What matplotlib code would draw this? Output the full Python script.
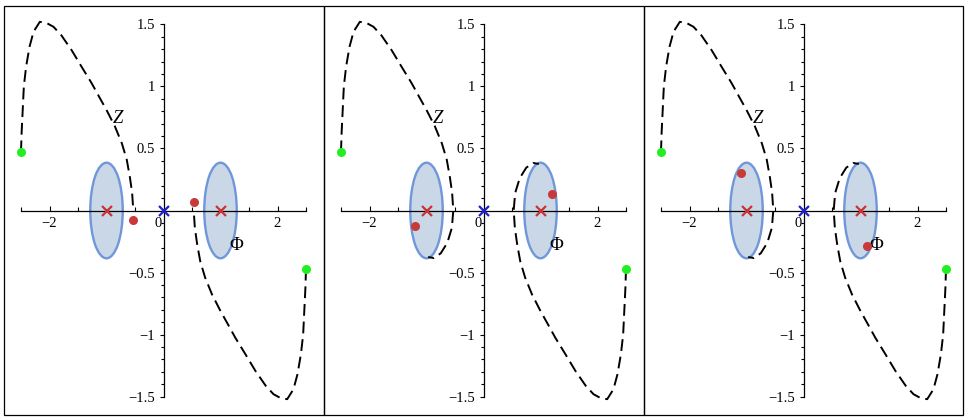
import matplotlib
matplotlib.use('Agg')
import matplotlib.pyplot as plt
from matplotlib.patches import Ellipse, Rectangle
from matplotlib.ticker import MultipleLocator, FixedLocator

plt.rcParams['font.family'] = ['Liberation Serif', 'DejaVu Serif']
plt.rcParams['lines.scale_dashes'] = False

# left branch of the dashed curve (first panel stops at the axis)
left_x = [-2.50, -2.49, -2.47, -2.45, -2.41, -2.35, -2.28, -2.17, -2.05, -1.93, -1.79,
          -1.61, -1.44, -1.26, -1.11, -1.00, -0.85, -0.73, -0.645, -0.59, -0.55, -0.53]
left_y = [0.469, 0.62, 0.81, 1.00, 1.16, 1.32, 1.44, 1.52, 1.51, 1.48, 1.41,
          1.29, 1.16, 1.025, 0.90, 0.81, 0.675, 0.54, 0.41, 0.27, 0.14, 0.0]
# continuation round the left ellipse (panels 2 and 3)
left_ext_x = [-0.53, -0.555, -0.635, -0.75, -0.87, -0.97]
left_ext_y = [0.0, -0.14, -0.26, -0.345, -0.383, -0.375]

right_x = [2.50, 2.49, 2.47, 2.45, 2.41, 2.35, 2.28, 2.17, 2.05, 1.93, 1.79,
           1.61, 1.44, 1.26, 1.11, 1.00, 0.85, 0.73, 0.645, 0.59, 0.55, 0.53]
right_y = [-0.469, -0.62, -0.81, -1.00, -1.16, -1.32, -1.44, -1.52, -1.51, -1.48, -1.41,
           -1.29, -1.16, -1.025, -0.90, -0.81, -0.675, -0.54, -0.41, -0.27, -0.14, 0.0]
right_ext_x = [0.53, 0.555, 0.635, 0.75, 0.87, 0.97]
right_ext_y = [0.0, 0.14, 0.26, 0.345, 0.383, 0.375]

green_x = [-2.5, 2.5]
green_y = [0.469, -0.469]

centers_x = [-1, 1]
ell_w, ell_h = 0.57, 0.77

# red dots for each panel
red_x = [[-0.53, 0.53], [-1.20, 1.21], [-1.10, 1.11]]
red_y = [[-0.075, 0.072], [-0.125, 0.133], [0.30, -0.29]]

xticks = [-2, -1, 1, 2]
xlabels = ['\u22122', '\u22121', '1', '2']
yticks = [-1.5, -1, -0.5, 0.5, 1, 1.5]
ylabels = ['\u22121.5', '\u22121', '\u22120.5', '0.5', '1', '1.5']

W, H = 967, 418
fig = plt.figure(figsize=(W / 100, H / 100), dpi=100)

# panel frames
for x0, x1 in [(4, 324), (324, 644), (644, 963)]:
    fig.add_artist(Rectangle((x0 / W, (H - 415) / H), (x1 - x0) / W, (415 - 6) / H,
                             transform=fig.transFigure, fill=False, ec='black', lw=0.9))

for i in range(3):
    dx = 320 * i
    ax = fig.add_axes([(21 + dx) / W, (H - 396.7) / H, 285 / W, 372.4 / H])
    ax.set_xlim(-2.5, 2.5)
    ax.set_ylim(-1.5, 1.5)
    ax.patch.set_visible(False)
    ax.spines['top'].set_visible(False)
    ax.spines['right'].set_visible(False)
    ax.spines['left'].set_position(('data', 0))
    ax.spines['bottom'].set_position(('data', 0))
    for s in ['left', 'bottom']:
        ax.spines[s].set_linewidth(0.9)

    ax.xaxis.set_major_locator(FixedLocator(xticks))
    ax.set_xticklabels(xlabels)
    ax.xaxis.set_minor_locator(FixedLocator([-2.5, -1.5, -0.5, 0.5, 1.5, 2.5]))
    ax.yaxis.set_major_locator(FixedLocator(yticks))
    ax.set_yticklabels(ylabels)
    ax.yaxis.set_minor_locator(MultipleLocator(0.1))
    ax.tick_params(axis='x', which='both', direction='in', pad=5, labelsize=10.5)
    ax.tick_params(axis='x', which='major', length=3.5, width=0.8)
    ax.tick_params(axis='x', which='minor', length=3, width=0.8)
    ax.tick_params(axis='y', which='both', direction='out', pad=3, labelsize=10.5)
    ax.tick_params(axis='y', which='major', length=3, width=0.8)
    ax.tick_params(axis='y', which='minor', length=2.2, width=0.8)
    ax.annotate('0', (0, 0), xytext=(-1.5, -5), textcoords='offset points',
                ha='right', va='top', fontsize=10.5)

    for cx in centers_x:
        ax.add_patch(Ellipse((cx, 0), ell_w, ell_h, fc='#c9d7e6', ec='#7097d9', lw=1.7, zorder=2))

    if i == 0:
        lx, ly, rx, ry = left_x, left_y, right_x, right_y
    else:
        lx, ly = left_x + left_ext_x[1:], left_y + left_ext_y[1:]
        rx, ry = right_x + right_ext_x[1:], right_y + right_ext_y[1:]
    ax.plot(lx, ly, color='black', lw=1.4, ls=(0, (8.5, 4.2)), clip_on=False, zorder=3)
    ax.plot(rx, ry, color='black', lw=1.4, ls=(0, (8.5, 4.2)), clip_on=False, zorder=3)

    ax.plot(centers_x, [0, 0], 'x', color='#cc3333', ms=7, mew=1.6, zorder=4)
    ax.plot([0], [0], 'x', color='#1f1fcc', ms=7, mew=1.6, zorder=4, clip_on=False)
    ax.plot(green_x, green_y, 'o', color='#22ee22', ms=5.5, zorder=5, clip_on=False)
    ax.plot(red_x[i], red_y[i], 'o', color='#c83a3a', ms=5.5, zorder=5, clip_on=False)

    ax.text(-0.80, 0.74, 'Z', fontsize=13.5, style='italic', ha='center', va='center')
    ax.text(1.28, -0.28, '\u03a6', fontsize=13.5, ha='center', va='center')

fig.savefig('out.png', dpi=100)
